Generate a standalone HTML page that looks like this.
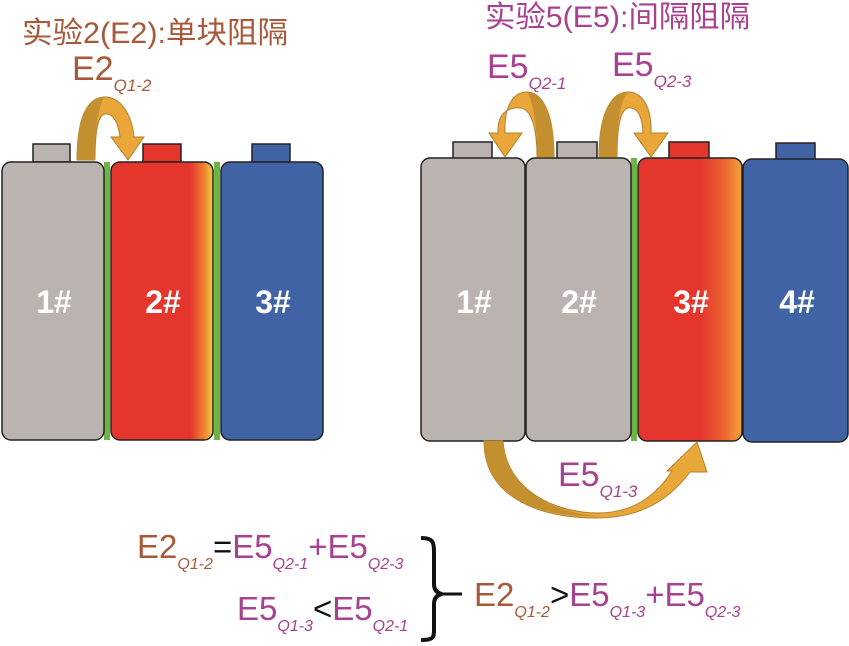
<!DOCTYPE html>
<html><head><meta charset="utf-8"><style>
html,body{margin:0;padding:0;background:#fff;}
svg{display:block;}
text{font-family:"Liberation Sans","Noto Sans CJK SC",sans-serif;}
</style></head><body>
<svg width="849" height="646" viewBox="0 0 849 646" xmlns="http://www.w3.org/2000/svg">
<defs>
<linearGradient id="hot" x1="0" x2="1" y1="0" y2="0">
<stop offset="0" stop-color="#e5362e"/><stop offset="0.78" stop-color="#e5362e"/><stop offset="0.9" stop-color="#ef7a2e"/><stop offset="1" stop-color="#f5c742"/>
</linearGradient>
<linearGradient id="hot2" x1="0" x2="1" y1="0" y2="0">
<stop offset="0" stop-color="#e5362e"/><stop offset="0.6" stop-color="#e5362e"/><stop offset="0.85" stop-color="#ec6a30"/><stop offset="1" stop-color="#f2a73c"/>
</linearGradient>
</defs>
<!-- titles -->
<text x="22" y="43" font-size="30" fill="#a8593a" textLength="266" lengthAdjust="spacingAndGlyphs">实验2(E2):单块阻隔</text>
<text x="485" y="27" font-size="30" fill="#a8418f" textLength="265" lengthAdjust="spacingAndGlyphs">实验5(E5):间隔阻隔</text>

<!-- left group -->
<rect x="104" y="162" width="6" height="278" fill="#6cb544"/>
<rect x="214" y="162" width="6" height="278" fill="#6cb544"/>
<rect x="33" y="144" width="37" height="18" fill="#bbb3b0" stroke="#222" stroke-width="1.5"/>
<rect x="143" y="144" width="38" height="18" fill="#e5362e" stroke="#222" stroke-width="1.5"/>
<rect x="252" y="144" width="38" height="18" fill="#3f63a4" stroke="#222" stroke-width="1.5"/>
<rect x="2" y="162" width="102" height="278" rx="9" fill="#bbb3b0" stroke="#222" stroke-width="1.5"/>
<rect x="111" y="162" width="102" height="278" rx="9" fill="url(#hot)" stroke="#222" stroke-width="1.5"/>
<rect x="221" y="162" width="102" height="278" rx="9" fill="#3f63a4" stroke="#222" stroke-width="1.5"/>
<g font-size="32" font-weight="bold" fill="#fff" text-anchor="middle">
<text x="54" y="313">1#</text><text x="163" y="313">2#</text><text x="273" y="313">3#</text>
</g>
<path d="M77,160 C77,112 90,97 105,97 C121,97 132,115 134,137 L144,137 L128,160 L111,137 L120,137 C118,122 113,113 105,114 C97,115 95,135 95,160 Z" fill="#e9a73a" stroke="#b08030" stroke-width="1"/>
<path d="M77,160 C77,112 90,97 105,97 C98,105 95,130 95,160 Z" fill="#c4902f"/>
<text x="72" y="80" font-size="34" fill="#a8593a">E2<tspan font-size="17" font-style="italic" dy="11">Q1-2</tspan></text>

<!-- right group -->
<rect x="631" y="158" width="6" height="283" fill="#6cb544"/>
<rect x="453" y="142" width="39" height="17" fill="#bbb3b0" stroke="#222" stroke-width="1.5"/>
<rect x="557" y="142" width="40" height="17" fill="#bbb3b0" stroke="#222" stroke-width="1.5"/>
<rect x="669" y="142" width="40" height="17" fill="#e5362e" stroke="#222" stroke-width="1.5"/>
<rect x="776" y="143" width="39" height="17" fill="#3f63a4" stroke="#222" stroke-width="1.5"/>
<rect x="421" y="158" width="104" height="283" rx="9" fill="#bbb3b0" stroke="#222" stroke-width="1.5"/>
<rect x="526" y="158" width="105" height="283" rx="9" fill="#bbb3b0" stroke="#222" stroke-width="1.5"/>
<rect x="638" y="158" width="104" height="283" rx="9" fill="url(#hot2)" stroke="#222" stroke-width="1.5"/>
<rect x="743" y="159" width="105" height="283" rx="9" fill="#3f63a4" stroke="#222" stroke-width="1.5"/>
<g font-size="32" font-weight="bold" fill="#fff" text-anchor="middle">
<text x="474" y="313">1#</text><text x="579" y="313">2#</text><text x="691" y="313">3#</text><text x="797" y="313">4#</text>
</g>
<!-- arrow Q2-1 -->
<path d="M554,157 C554,110 541,92 527,92 C511,92 504,110 505,133 L522,133 L505,157 L489,133 L498,133 C497,113 508,107 521,108 C532,110 537,130 537,157 Z" fill="#e9a73a" stroke="#b08030" stroke-width="1"/>
<path d="M554,157 C554,110 541,92 527,92 C533,100 537,125 537,157 Z" fill="#c4902f"/>
<!-- arrow Q2-3 -->
<path d="M599,157 C599,110 613,92 628,92 C644,92 652,110 651,133 L668,133 L651,157 L634,133 L643,133 C642,113 636,107 628,108 C620,110 617,130 617,157 Z" fill="#e9a73a" stroke="#b08030" stroke-width="1"/>
<path d="M599,157 C599,110 613,92 628,92 C620,100 617,125 617,157 Z" fill="#c4902f"/>
<text x="487" y="78" font-size="34" fill="#a8418f">E5<tspan font-size="17" font-style="italic" dy="11">Q2-1</tspan></text>
<text x="612" y="76" font-size="34" fill="#a8418f">E5<tspan font-size="17" font-style="italic" dy="11">Q2-3</tspan></text>
<!-- bottom arc -->
<path d="M484,441 L503,441 C506,490 555,513 598,513 C632,513 656,496 672,471 L667,471 L697,442 L707,472 L690,472 C665,506 632,518 597,518 C535,518 484,495 484,441 Z" fill="#e9a73a" stroke="#b08030" stroke-width="1"/>
<path d="M484,441 L503,441 C506,490 555,513 598,516 C535,518 484,495 484,441 Z" fill="#c4902f"/>
<text x="558" y="486" font-size="34" fill="#a8418f">E5<tspan font-size="17" font-style="italic" dy="11">Q1-3</tspan></text>

<!-- equations -->
<text x="137" y="558" font-size="33" fill="#a8593a">E2<tspan font-size="16" font-style="italic" dy="11">Q1-2</tspan><tspan fill="#111" dy="-11">=</tspan><tspan fill="#a8418f">E5</tspan><tspan fill="#a8418f" font-size="16" font-style="italic" dy="11">Q2-1</tspan><tspan fill="#a8418f" dy="-11">+E5</tspan><tspan fill="#a8418f" font-size="16" font-style="italic" dy="11">Q2-3</tspan></text>
<text x="237" y="620" font-size="33" fill="#a8418f">E5<tspan font-size="16" font-style="italic" dy="11">Q1-3</tspan><tspan fill="#111" dy="-11">&lt;</tspan>E5<tspan font-size="16" font-style="italic" dy="11">Q2-1</tspan></text>
<path d="M421,538 C433,538 434,542 434,552 L434,584 C434,590 437,593 442,594 C437,595 434,598 434,604 L434,630 C434,638 433,640 421,640" fill="none" stroke="#111" stroke-width="4"/>
<line x1="440" y1="594" x2="462" y2="594" stroke="#111" stroke-width="3"/>
<text x="474" y="606" font-size="33" fill="#a8593a">E2<tspan font-size="16" font-style="italic" dy="11">Q1-2</tspan><tspan fill="#111" dy="-11">&gt;</tspan><tspan fill="#a8418f">E5</tspan><tspan fill="#a8418f" font-size="16" font-style="italic" dy="11">Q1-3</tspan><tspan fill="#a8418f" dy="-11">+E5</tspan><tspan fill="#a8418f" font-size="16" font-style="italic" dy="11">Q2-3</tspan></text>
</svg>
</body></html>
